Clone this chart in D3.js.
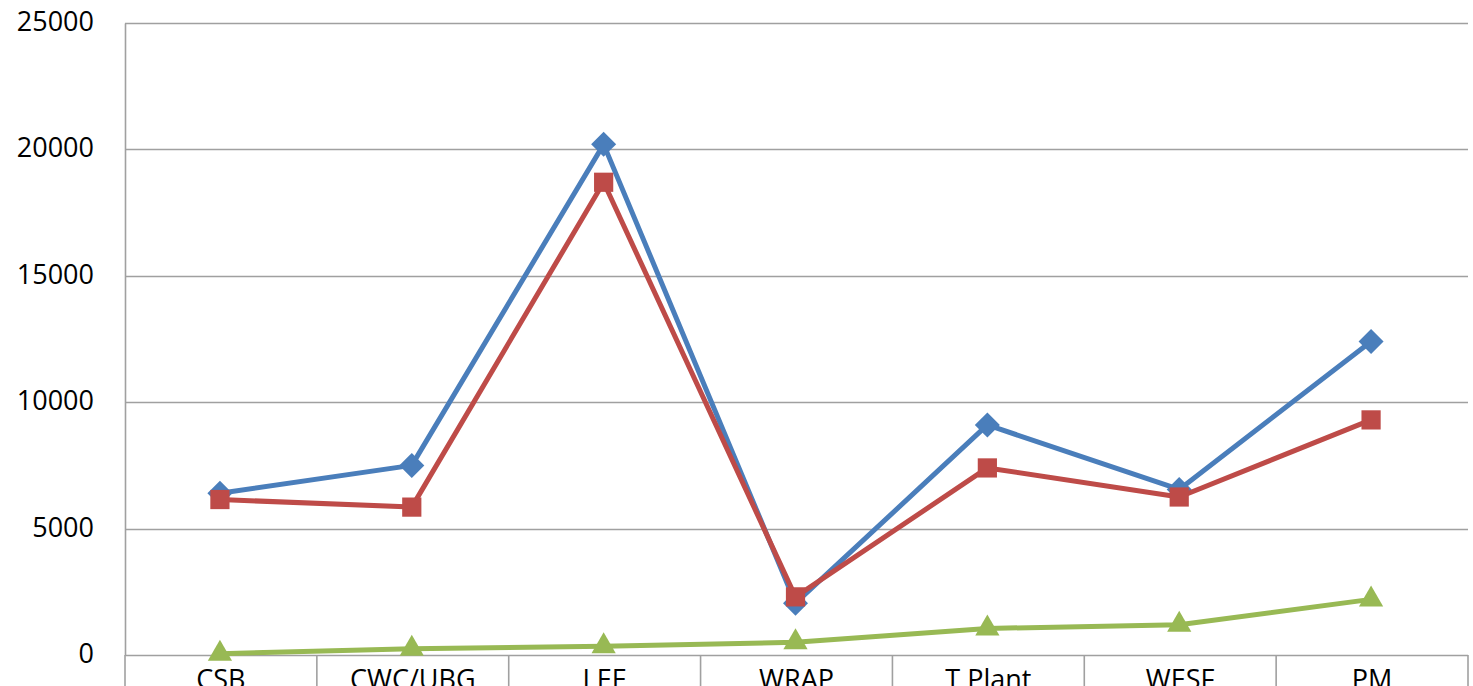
<!DOCTYPE html>
<html>
<head>
<meta charset="utf-8">
<script src="https://cdn.jsdelivr.net/npm/d3@7"></script>
<style>
  html, body { margin: 0; padding: 0; background: #fff; overflow: hidden; }
  text { font-family: "Open Sans", "DejaVu Sans", sans-serif; fill: #000; }
</style>
</head>
<body>
<div id="chart"></div>
<script>
// categories and series values
let categories = ["CSB", "CWC/UBG", "LEE", "WRAP", "T Plant", "WESF", "PM"];
let seriesBlue = [6400, 7500, 20200, 2050, 9100, 6550, 12400];
let seriesRed = [6150, 5850, 18700, 2300, 7400, 6250, 9300];
let seriesGreen = [50, 250, 350, 500, 1050, 1200, 2200];
let yTicks = [0, 5000, 10000, 15000, 20000, 25000];

function lineChart(){
    // SVG Setup Details
    let width = 1473, height = 686;
    let margin = {"top": 23, "left": 125, "right": 5, "bottom": 31};

    let svg = d3.select("#chart").append("svg")
        .attr("width", width)
        .attr("height", height);

    let x = d3.scaleBand()
        .domain(categories)
        .range([margin.left, width - margin.right]);

    let y = d3.scaleLinear()
        .domain([0, 25000])
        .range([height - margin.bottom, margin.top]);

    let gridColor = "#a0a0a0";

    // horizontal gridlines
    svg.append("g").selectAll("line")
        .data(yTicks)
        .enter().append("line")
        .attr("x1", margin.left)
        .attr("x2", width - margin.right)
        .attr("y1", d => Math.round(y(d)) + 0.5)
        .attr("y2", d => Math.round(y(d)) + 0.5)
        .attr("stroke", gridColor)
        .attr("stroke-width", 1.6);

    // value axis
    let yAxis = d3.axisLeft(y).tickValues(yTicks).tickSize(0).tickPadding(31)
        .tickFormat(d => d);
    let gy = svg.append("g")
        .attr("transform", "translate(" + margin.left + ",0)")
        .call(yAxis);
    gy.select(".domain").attr("stroke", gridColor).attr("stroke-width", 1.6);
    gy.selectAll("text")
        .style("font-size", "27px")
        .style("font-family", "'Open Sans', sans-serif")
        .attr("dy", "0.28em");

    // category separators below the axis
    let edges = categories.map(c => x(c)).concat([x(categories[categories.length - 1]) + x.bandwidth()]);
    svg.append("g").selectAll("line")
        .data(edges)
        .enter().append("line")
        .attr("x1", d => d)
        .attr("x2", d => d)
        .attr("y1", y(0))
        .attr("y2", height)
        .attr("stroke", gridColor)
        .attr("stroke-width", 1.6);

    // category labels (cut by the bottom edge, as in the source)
    svg.append("g").selectAll("text")
        .data(categories)
        .enter().append("text")
        .attr("x", d => x(d) + x.bandwidth() / 2)
        .attr("y", y(0) + 34)
        .attr("text-anchor", "middle")
        .style("font-size", "27px")
        .text(d => d);

    let cx = d => x(d) + x.bandwidth() / 2 - 1;

    let series = [
        {values: seriesBlue, color: "#4a7ebb", symbol: d3.symbolDiamond2, size: 400},
        {values: seriesRed, color: "#be4b48", symbol: d3.symbolSquare2, size: 470},
        {values: seriesGreen, color: "#98b954", symbol: d3.symbolTriangle2, size: 420}
    ];

    let line = d3.line()
        .x((d, i) => cx(categories[i]))
        .y(d => y(d));

    series.forEach(s => {
        svg.append("path")
            .datum(s.values)
            .attr("d", line)
            .attr("fill", "none")
            .attr("stroke", s.color)
            .attr("stroke-width", 5)
            .attr("stroke-linejoin", "round");

        let sym = d3.symbol().type(s.symbol).size(s.size);
        svg.append("g").selectAll("path")
            .data(s.values)
            .enter().append("path")
            .attr("d", sym)
            .attr("transform", (d, i) => "translate(" + cx(categories[i]) + "," + y(d) + ")")
            .attr("fill", s.color)
            .attr("stroke", "none");
    });
}

lineChart();
</script>
</body>
</html>
